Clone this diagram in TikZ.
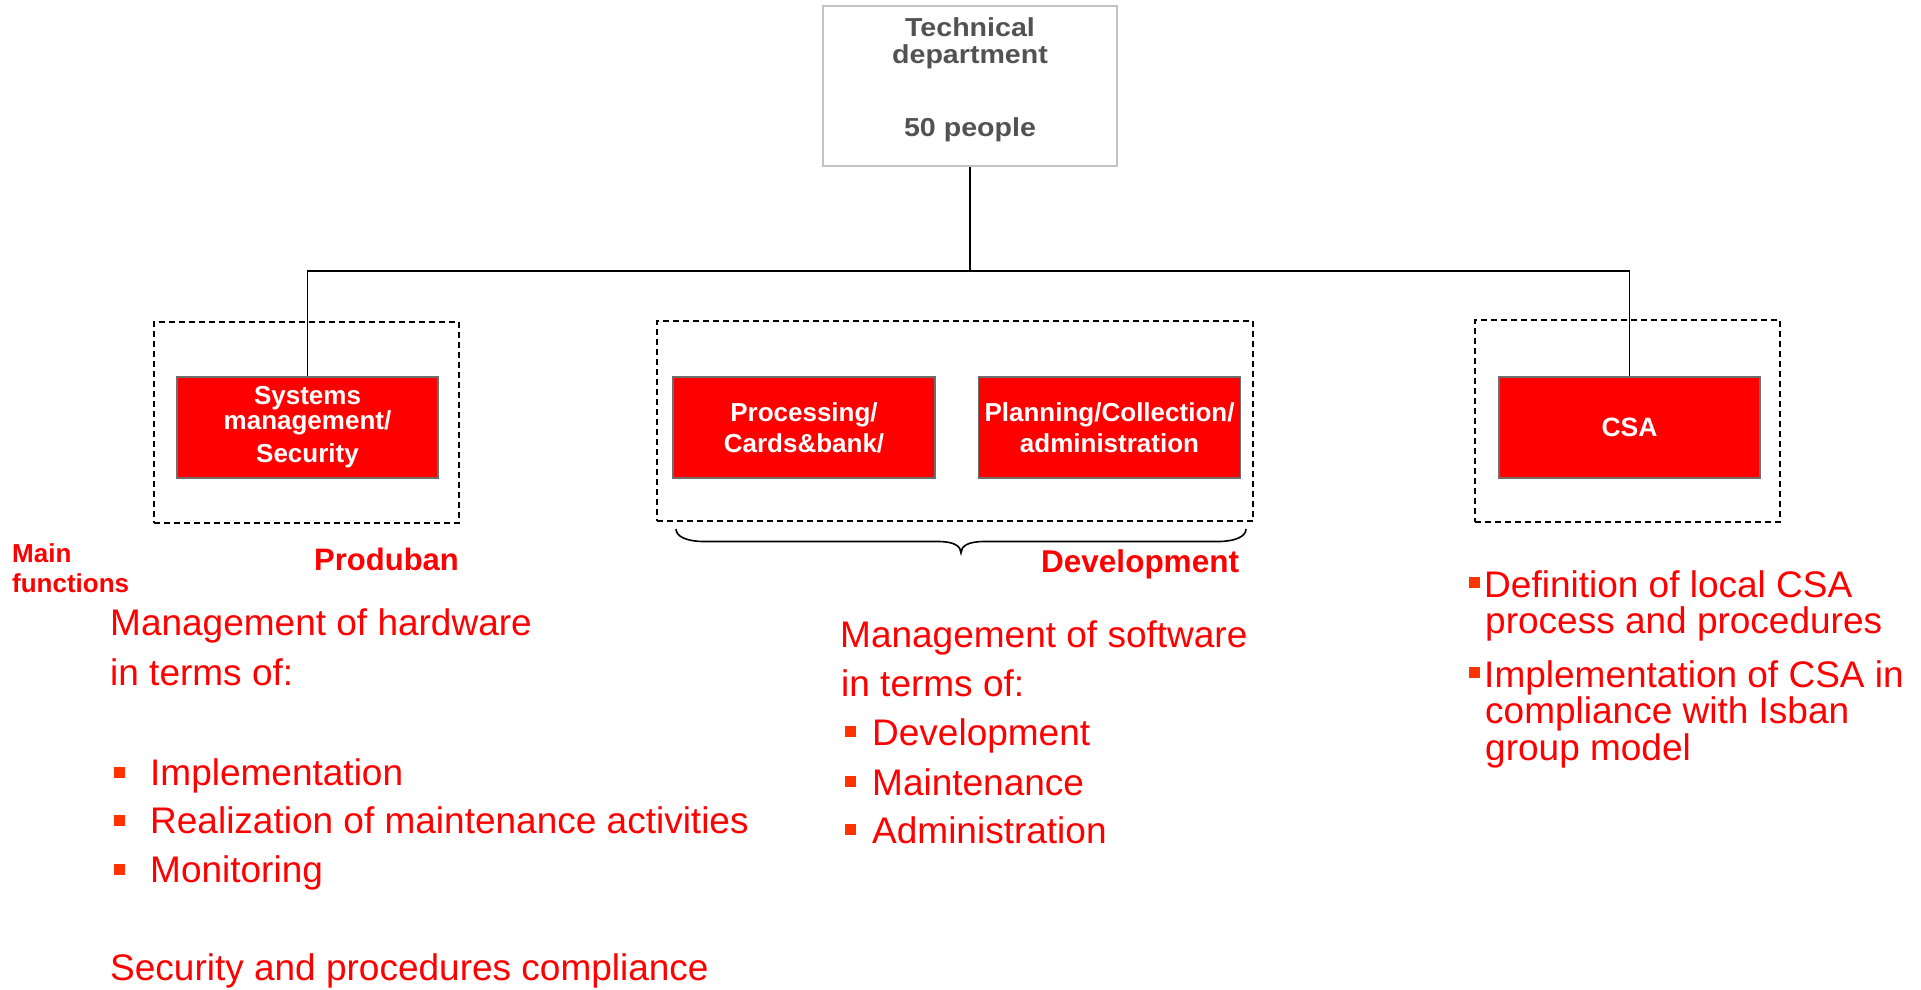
\documentclass[tikz,border=0pt]{standalone}
\usepackage{fontspec}
\setmainfont{Liberation Sans}
\newfontfamily\topfont[FakeStretch=1.1]{Liberation Sans}
\definecolor{redfill}{HTML}{FF0000}
\definecolor{bordergray}{HTML}{6E6E6E}
\definecolor{topgray}{HTML}{C3C3C3}
\definecolor{toptextgray}{HTML}{525252}
\definecolor{bulletred}{HTML}{FF3300}
\newcommand\lbul{{\color{bulletred}\rule[6.7pt]{11pt}{11.7pt}}\hspace{25pt}}
\newcommand\mbul{{\color{bulletred}\rule[8pt]{11pt}{11.5pt}}\hspace{16pt}}
\newcommand\rbul{{\color{bulletred}\rule[9pt]{11pt}{11pt}}\hspace{4pt}}
\tikzset{
  redbox/.style={fill=redfill, draw=bordergray, line width=1.7pt, text=white,
    font=\bfseries\fontsize{26}{25}\selectfont, align=center, inner sep=0pt,
    minimum width=261pt, minimum height=101pt},
  widebox/.style={redbox, minimum width=262pt,
    font=\bfseries\fontsize{26}{31}\selectfont},
  dashbox/.style={draw=black, dash pattern=on 6pt off 4pt, line width=1.6pt, inner sep=0pt},
  topbox/.style={draw=topgray, line width=1.5pt, minimum width=294pt, minimum height=160pt, inner sep=0pt},
  toptext/.style={text=toptextgray, font=\topfont\bfseries\fontsize{26}{26.6}\selectfont, align=center, inner sep=0pt},
  conn/.style={draw=black, line width=1.8pt},
  redlabel/.style={text=redfill, anchor=base west, inner sep=0pt},
  bodytxt/.style={redlabel, font=\fontsize{37}{37}\selectfont},
}
\begin{document}
\begin{tikzpicture}[x=1pt,y=-1pt]
\useasboundingbox (0,0) rectangle (1921,989);
% dashed group frames
\node[dashbox, minimum width=305pt, minimum height=201pt] (d1) at (306.5,422.5) {};
\node[dashbox, minimum width=596pt, minimum height=200pt] (d2) at (955,421) {};
\node[dashbox, minimum width=305pt, minimum height=202pt] (d3) at (1627.5,421) {};
% top box
\node[topbox] (top) at (970,86) {};
\node[toptext] (toplbl) at (970,80) {Technical\\department\\[47pt]50 people};
% red boxes
\node[redbox] (sys) at (307.5,427.5) {Systems\\management/\\[8pt]Security};
\node[widebox] (proc) at (804,427.5) {Processing/\\Cards\&bank/};
\node[widebox] (plan) at (1109.5,427.5) {Planning/Collection/\\administration};
\node[redbox, font=\bfseries\fontsize{26.5}{26}\selectfont] (csa) at (1629.5,427.5) {CSA};
% connectors
\coordinate (bus) at (970,271);
\draw[conn] (top.south) -- (bus);
\draw[conn] (sys.north) |- (bus) -| (csa.north);
% brace
\draw[line width=1.6pt] (676,529) .. controls (676,537) and (688,541.5) .. (704,541.5)
  -- (938,541.5) .. controls (954,541.5) and (961,546) .. (961,553)
  .. controls (961,546) and (968,541.5) .. (984,541.5)
  -- (1218,541.5) .. controls (1234,541.5) and (1246,537) .. (1246,529);
% labels
\node[redlabel, font=\bfseries\fontsize{31}{31}\selectfont] (produban) at (314,570) {Produban};
\node[redlabel, font=\bfseries\fontsize{31.5}{31.5}\selectfont] (devlbl) at (1041,572) {Development};
\node[redlabel, font=\bfseries\fontsize{26}{30}\selectfont, align=left, anchor=north west] (mainf) at (12,543) {Main\\functions};
% left block
\node[bodytxt] (l1) at (110,635) {Management of hardware};
\node[bodytxt] (l2) at (110,685) {in terms of:};
\node[bodytxt] (l3) at (114,785) {\lbul Implementation};
\node[bodytxt] (l4) at (114,833) {\lbul Realization of maintenance activities};
\node[bodytxt] (l5) at (114,882) {\lbul Monitoring};
\node[bodytxt] (l6) at (110,980) {Security and procedures compliance};
% middle block
\node[bodytxt] (m1) at (840,647) {Management of software};
\node[bodytxt] (m2) at (841,696) {in terms of:};
\node[bodytxt] (m3) at (845,745) {\mbul Development};
\node[bodytxt] (m4) at (845,795) {\mbul Maintenance};
\node[bodytxt] (m5) at (845,843) {\mbul Administration};
% right block
\node[bodytxt] (r1) at (1469,597) {\rbul Definition of local CSA};
\node[bodytxt] (r2) at (1485,633) {process and procedures};
\node[bodytxt] (r3) at (1469,687) {\rbul Implementation of CSA in};
\node[bodytxt] (r4) at (1485,723) {compliance with Isban};
\node[bodytxt] (r5) at (1485,760) {group model};
\end{tikzpicture}
\end{document}
